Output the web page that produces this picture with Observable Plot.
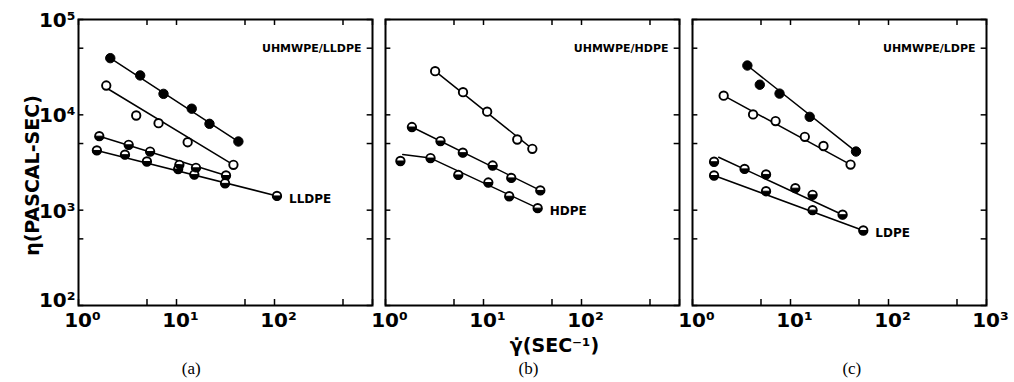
<!DOCTYPE html>
<html><head><meta charset="utf-8">
<script src="https://cdn.jsdelivr.net/npm/d3@7"></script>
<script src="https://cdn.jsdelivr.net/npm/@observablehq/plot@0.6"></script>
<style>
html,body{margin:0;padding:0;background:#fff;}
#chart svg{display:block;background:#fff;}
g[aria-label="y-title"] text{letter-spacing:1px;}
</style></head><body><div id="chart"></div>
<script>
// ---------- data (shear rate in 1/s, viscosity in Pa·s) ----------
const panels = ["a", "b", "c"];
const panelTitles = ["UHMWPE/LLDPE", "UHMWPE/HDPE", "UHMWPE/LDPE"];
const panelCaptions = ["(a)", "(b)", "(c)"];

// panel (a) UHMWPE/LLDPE
const a1 = [[2.11, 39300], [4.26, 25900], [7.37, 16600], [14.3, 11600], [21.7, 8050], [42.8, 5250]];
const a2 = [[1.92, 20300], [3.88, 9840], [6.56, 8170], [13.0, 5160], [38.1, 2990]];
const a3 = [[1.63, 5970], [3.25, 4850], [5.38, 4120], [10.7, 2990], [15.8, 2780], [32.0, 2310]];
const a4 = [[1.54, 4230], [2.98, 3820], [4.99, 3240], [10.4, 2700], [15.2, 2360], [31.3, 1910], [106, 1410]];
const a1Line = [[2.11, 39300], [42.8, 5250]];
const a2Line = [[1.95, 19000], [38.1, 2990]];
const a3Line = [[1.63, 5970], [32.0, 2310]];
const a4Line = [[1.54, 4230], [106, 1410]];

// panel (b) UHMWPE/HDPE
const b1 = [[3.21, 28700], [6.18, 17300], [10.9, 10800], [22.1, 5510], [31.5, 4400]];
const b2 = [[1.86, 7450], [3.64, 5310], [6.15, 4010], [12.4, 2940], [19.2, 2180], [38.0, 1610]];
const b3 = [[1.42, 3280], [2.88, 3520], [5.53, 2340], [11.2, 1950], [18.3, 1400], [35.7, 1050]];
const b1Line = [[3.21, 28700], [31.5, 4400]];
const b2Line = [[1.86, 7450], [38.0, 1610]];
const b3Line = [[1.50, 3840], [2.88, 3520], [35.7, 1050]];

// panel (c) UHMWPE/LDPE
const c1 = [[3.63, 32900], [4.86, 20700], [7.73, 16700], [15.7, 9530], [46.6, 4120]];
const c2 = [[2.08, 15900], [4.15, 10100], [7.04, 8610], [14.0, 5880], [21.7, 4710], [41.0, 3010]];
const c3 = [[1.66, 3220], [3.40, 2710], [5.63, 2370], [11.2, 1700], [16.8, 1450], [34.0, 896]];
const c4 = [[1.66, 2310], [5.63, 1580], [16.8, 1000], [55.3, 612]];
const c1Line = [[3.63, 32900], [46.6, 4120]];
const c2Line = [[2.08, 15900], [41.0, 3010]];
const c3Line = [[1.85, 3590], [34.0, 896]];
const c4Line = [[1.66, 2310], [55.3, 612]];

// series: panel, id, marker kind, points, fitted line
const seriesList = [
  ["a", "a1", "filled", a1, a1Line], ["a", "a2", "open", a2, a2Line],
  ["a", "a3", "half", a3, a3Line], ["a", "a4", "half", a4, a4Line],
  ["b", "b1", "open", b1, b1Line], ["b", "b2", "half", b2, b2Line],
  ["b", "b3", "half", b3, b3Line],
  ["c", "c1", "filled", c1, c1Line], ["c", "c2", "open", c2, c2Line],
  ["c", "c3", "half", c3, c3Line], ["c", "c4", "half", c4, c4Line]
];
const curveLabels = [["a", "LLDPE", a4], ["b", "HDPE", b3], ["c", "LDPE", c4]];

// axes
const xTickValues = [1, 5, 10, 50, 100, 500, 1000];
const yTickValues = [100, 500, 1000, 5000, 10000, 50000, 100000];
const xLabelValues = [1, 10, 100, 1000];
const xLabelText = ["10⁰", "10¹", "10²", "10³"];
const xLabelCount = {a: 3, b: 3, c: 4};
const yLabelValues = [100, 1000, 10000, 100000];
const yLabelText = ["10²", "10³", "10⁴", "10⁵"];
const yTitle = "η(PASCAL-SEC)";
const xTitle = "γ̇(SEC⁻¹)";

// ---------- build tables ----------
const points = [], lines = [];
for (const [panel, id, kind, pts, ln] of seriesList) {
  for (const [x, y] of pts) points.push({panel, id, kind, x, y});
  for (const [x, y] of ln) lines.push({panel, id, x, y});
}
const xLabels = [];
for (const p of panels) for (let i = 0; i < xLabelCount[p]; i++) xLabels.push({panel: p, x: xLabelValues[i], t: xLabelText[i]});
const yLabels = yLabelValues.map((v, i) => ({panel: "a", y: v, t: yLabelText[i]}));
const titles = panels.map((p, i) => ({panel: p, t: panelTitles[i]}));
const endLabels = curveLabels.map(([p, t, s]) => ({panel: p, t, x: s[s.length - 1][0], y: s[s.length - 1][1]}));

// ---------- layout ----------
const W = 1014, H = 382, mL = 77, mR = 27, mT = 19, mB = 77;
const pad = 0.0423;
const step = (W - mL - mR) / (3 - pad);
const fw = step * (1 - pad);
const fh = H - mT - mB;
const T = 6;
const font = "DejaVu Sans";

const halfDisc = {
  draw(context, size) {
    const r = Math.sqrt(size / Math.PI);
    context.moveTo(r, 0);
    context.arc(0, 0, r, 0, Math.PI);
    context.closePath();
  }
};

const bottomText = (txt, panel, dx, dy, opts) => Plot.text([txt], {
  fx: () => panel, frameAnchor: "bottom", text: d => d, dx, dy,
  textAnchor: "middle", lineAnchor: "middle", fill: "black", ...opts
});

const chart = Plot.plot({
  width: W, height: H,
  marginLeft: mL, marginRight: mR, marginTop: mT, marginBottom: mB,
  x: {type: "log", domain: [1, 1000], axis: null},
  y: {type: "log", domain: [100, 100000], axis: null},
  fx: {domain: panels, paddingInner: pad, paddingOuter: 0, axis: null, label: null},
  marks: [
    Plot.frame({stroke: "black", strokeWidth: 2}),
    Plot.tickX(xTickValues, {x: d => d, insetTop: fh - T, stroke: "black", strokeWidth: 1.5}),
    Plot.tickX(xTickValues, {x: d => d, insetBottom: fh - T, stroke: "black", strokeWidth: 1.5}),
    Plot.tickY(yTickValues, {y: d => d, insetRight: fw - T, stroke: "black", strokeWidth: 1.5}),
    Plot.tickY(yTickValues, {y: d => d, insetLeft: fw - T, stroke: "black", strokeWidth: 1.5}),
    Plot.line(lines, {fx: "panel", x: "x", y: "y", z: "id", stroke: "black", strokeWidth: 1.5}),
    Plot.dot(points.filter(d => d.kind === "filled"), {fx: "panel", x: "x", y: "y", r: 4.7, fill: "black", stroke: "black", strokeWidth: 1}),
    Plot.dot(points.filter(d => d.kind !== "filled"), {fx: "panel", x: "x", y: "y", r: 4.2, fill: "white", stroke: "black", strokeWidth: 1.9}),
    Plot.dot(points.filter(d => d.kind === "half"), {fx: "panel", x: "x", y: "y", r: 4.2, symbol: halfDisc, fill: "black", stroke: "black", strokeWidth: 1}),
    Plot.text(titles, {fx: "panel", frameAnchor: "right", y: () => 50000, text: "t", textAnchor: "end", lineAnchor: "middle", dx: -11,
      fontFamily: font, fontWeight: "bold", fontSize: 11, fill: "black"}),
    Plot.text(endLabels, {fx: "panel", x: "x", y: "y", text: "t", textAnchor: "start", lineAnchor: "middle", dx: 12, dy: 3,
      fontFamily: font, fontWeight: "bold", fontSize: 12, fill: "black"}),
    Plot.text(yLabels.filter(d => d.y > 100), {fx: "panel", frameAnchor: "left", y: "y", text: "t", textAnchor: "end", lineAnchor: "middle", dx: -3, dy: 1,
      fontFamily: font, fontWeight: "bold", fontSize: 20, fill: "black"}),
    Plot.text(yLabels.filter(d => d.y === 100), {fx: "panel", frameAnchor: "left", y: "y", text: "t", textAnchor: "end", lineAnchor: "middle", dx: -3, dy: -5,
      fontFamily: font, fontWeight: "bold", fontSize: 20, fill: "black"}),
    Plot.text(xLabels, {fx: "panel", frameAnchor: "bottom", x: "x", text: "t", textAnchor: "middle", lineAnchor: "middle", dx: 4, dy: 15,
      fontFamily: font, fontWeight: "bold", fontSize: 20, fill: "black"}),
    Plot.text([yTitle], {fx: () => "a", frameAnchor: "left", text: d => d, rotate: -90, dx: -46, dy: 13,
      textAnchor: "middle", lineAnchor: "middle",
      fontFamily: font, fontWeight: "bold", fontSize: 19, fill: "black", ariaLabel: "y-title"}),
    bottomText(xTitle, "b", 22, 40, {fontFamily: font, fontWeight: "bold", fontSize: 19}),
    bottomText(panelCaptions[0], "a", 190 - (mL + fw / 2), 63, {fontFamily: "Liberation Serif", fontSize: 17}),
    bottomText(panelCaptions[1], "b", 528 - (mL + step + fw / 2), 63, {fontFamily: "Liberation Serif", fontSize: 17}),
    bottomText(panelCaptions[2], "c", 852 - (mL + 2 * step + fw / 2), 63, {fontFamily: "Liberation Serif", fontSize: 17})
  ]
});
document.getElementById("chart").appendChild(chart);
</script></body></html>
